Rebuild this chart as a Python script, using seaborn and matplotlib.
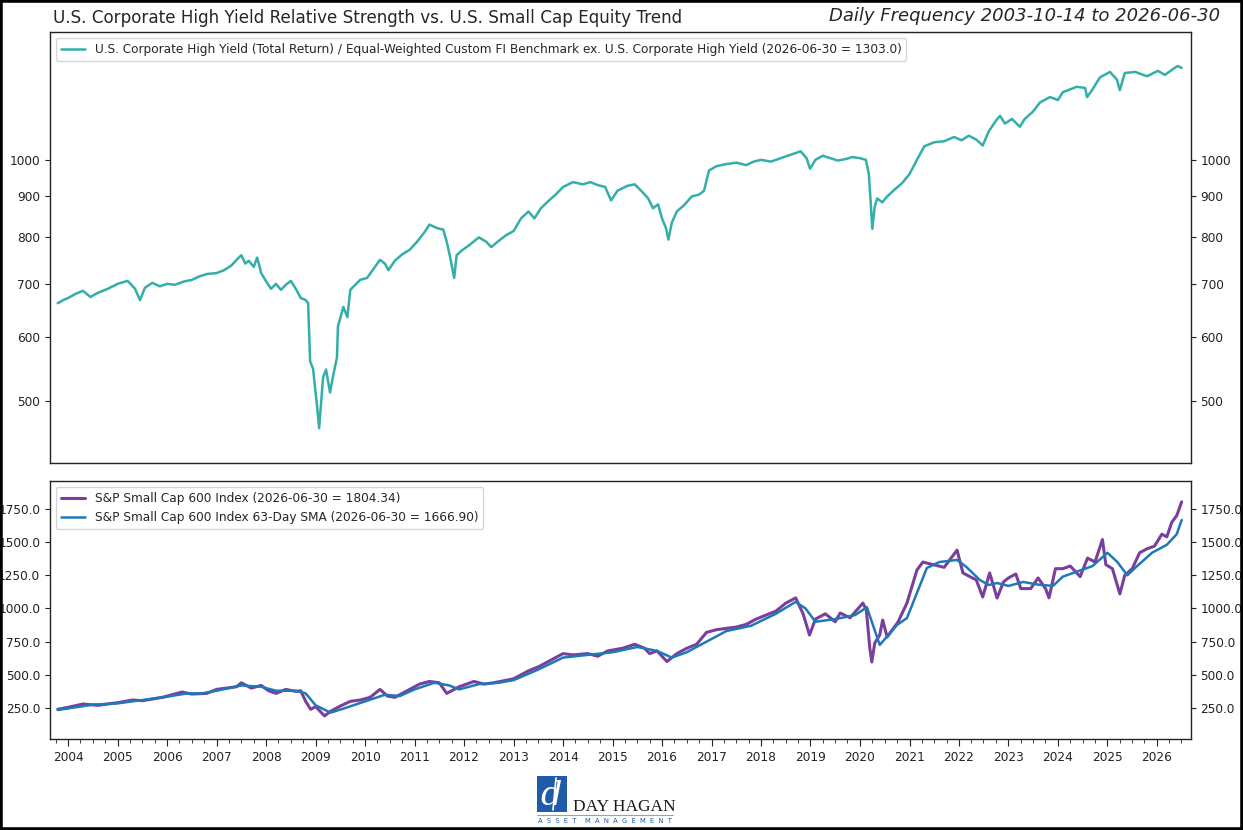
import pandas as pd
import numpy as np
import matplotlib
matplotlib.use("Agg")
import matplotlib.pyplot as plt
import matplotlib.dates as mdates
import matplotlib.ticker as mticker
import matplotlib.patches as mpatches
import seaborn as sns

# High yield relative strength (decimal years)
hy_year = [2003.79, 2003.9, 2004.0, 2004.15, 2004.3, 2004.45, 2004.6, 2004.8, 2005.0, 2005.2,
           2005.35, 2005.45, 2005.55, 2005.7, 2005.85, 2006.0, 2006.15, 2006.35, 2006.5, 2006.65,
           2006.8, 2007.0, 2007.15, 2007.3, 2007.42, 2007.5, 2007.58, 2007.65, 2007.75, 2007.82,
           2007.9, 2008.0, 2008.1, 2008.2, 2008.3, 2008.4, 2008.5, 2008.6, 2008.7, 2008.8,
           2008.85, 2008.89, 2008.95, 2009.03, 2009.07, 2009.15, 2009.21, 2009.29, 2009.36, 2009.43,
           2009.45, 2009.56, 2009.64, 2009.7, 2009.9, 2010.04, 2010.15, 2010.3, 2010.4, 2010.47,
           2010.6, 2010.75, 2010.9, 2011.05, 2011.2, 2011.3, 2011.45, 2011.58, 2011.65, 2011.72,
           2011.8, 2011.85, 2011.95, 2012.1, 2012.3, 2012.45, 2012.55, 2012.7, 2012.85, 2013.0,
           2013.15, 2013.3, 2013.42, 2013.55, 2013.7, 2013.85, 2014.0, 2014.2, 2014.4, 2014.55,
           2014.7, 2014.85, 2014.97, 2015.1, 2015.3, 2015.45, 2015.6, 2015.72, 2015.82, 2015.92,
           2016.0, 2016.08, 2016.13, 2016.2, 2016.3, 2016.45, 2016.6, 2016.75, 2016.85, 2016.95,
           2017.1, 2017.3, 2017.5, 2017.7, 2017.85, 2018.0, 2018.2, 2018.4, 2018.6, 2018.8,
           2018.92, 2018.99, 2019.1, 2019.25, 2019.4, 2019.55, 2019.7, 2019.85, 2020.0, 2020.12,
           2020.18, 2020.22, 2020.25, 2020.3, 2020.35, 2020.45, 2020.55, 2020.7, 2020.85, 2021.0,
           2021.15, 2021.3, 2021.5, 2021.7, 2021.9, 2022.05, 2022.2, 2022.35, 2022.48, 2022.6,
           2022.75, 2022.83, 2022.93, 2023.07, 2023.23, 2023.33, 2023.49, 2023.64, 2023.84, 2024.0,
           2024.1, 2024.38, 2024.55, 2024.59, 2024.69, 2024.85, 2025.05, 2025.19, 2025.25, 2025.35,
           2025.56, 2025.8, 2026.02, 2026.16, 2026.36, 2026.42, 2026.5]
hy_value = [662, 668, 672, 680, 686, 674, 682, 690, 700, 706,
            690, 668, 692, 702, 695, 700, 698, 705, 708, 715,
            720, 722, 728, 738, 752, 760, 742, 748, 735, 755,
            722, 705, 690, 700, 688, 698, 706, 690, 672, 668,
            662, 560, 548, 491, 462, 535, 547, 512, 540, 566,
            619, 655, 636, 688, 708, 712, 728, 750, 742, 728,
            748, 762, 772, 790, 812, 830, 822, 818, 790, 755,
            712, 760, 770, 782, 800, 790, 778, 792, 805, 815,
            845, 862, 845, 870, 888, 905, 925, 938, 932, 938,
            930, 925, 890, 915, 928, 932, 912, 895, 870, 880,
            845, 822, 795, 835, 862, 878, 900, 905, 915, 970,
            982, 988, 992, 985, 995, 1000, 995, 1005, 1015, 1025,
            1005, 975, 1000, 1012, 1005, 998, 1002, 1008, 1005, 1000,
            960, 880, 820, 875, 895, 885, 900, 918, 935, 960,
            1000, 1040, 1052, 1055, 1068, 1058, 1072, 1060, 1042, 1085,
            1120, 1135, 1110, 1125, 1100, 1125, 1148, 1180, 1198, 1188,
            1215, 1234, 1230, 1198, 1222, 1268, 1288, 1260, 1222, 1284,
            1288, 1272, 1292, 1277, 1303, 1310, 1303]

# S&P Small Cap 600 index
sp_year = [2003.79, 2004.0, 2004.3, 2004.6, 2005.0, 2005.3, 2005.5, 2005.9, 2006.3, 2006.5,
           2006.8, 2007.0, 2007.4, 2007.5, 2007.7, 2007.9, 2008.05, 2008.2, 2008.4, 2008.6,
           2008.7, 2008.8, 2008.9, 2009.0, 2009.18, 2009.3, 2009.5, 2009.7, 2009.9, 2010.1,
           2010.3, 2010.45, 2010.6, 2010.9, 2011.1, 2011.3, 2011.5, 2011.65, 2011.75, 2011.9,
           2012.2, 2012.4, 2012.6, 2012.8, 2013.0, 2013.3, 2013.5, 2013.8, 2014.0, 2014.2,
           2014.5, 2014.7, 2014.9, 2015.2, 2015.45, 2015.65, 2015.75, 2015.9, 2016.1, 2016.3,
           2016.5, 2016.7, 2016.9, 2017.1, 2017.3, 2017.5, 2017.7, 2017.9, 2018.1, 2018.3,
           2018.5, 2018.7, 2018.85, 2018.98, 2019.1, 2019.3, 2019.5, 2019.6, 2019.8, 2020.06,
           2020.13, 2020.2, 2020.24, 2020.3, 2020.4, 2020.46, 2020.55, 2020.77, 2020.95, 2021.15,
           2021.27, 2021.5, 2021.7, 2021.96, 2022.08, 2022.35, 2022.48, 2022.62, 2022.77, 2022.9,
           2023.0, 2023.15, 2023.25, 2023.45, 2023.6, 2023.75, 2023.82, 2023.95, 2024.1, 2024.25,
           2024.45, 2024.6, 2024.75, 2024.9, 2024.97, 2025.1, 2025.25, 2025.35, 2025.5, 2025.65,
           2025.8, 2025.95, 2026.1, 2026.2, 2026.3, 2026.4, 2026.5]
sp_value = [240, 255, 280, 270, 290, 310, 305, 330, 370, 355,
            360, 390, 410, 440, 400, 420, 380, 360, 390, 375,
            380, 300, 240, 260, 190, 225, 265, 300, 310, 330,
            390, 340, 330, 390, 430, 450, 440, 360, 380, 410,
            450, 430, 440, 455, 470, 530, 560, 620, 660, 650,
            660, 640, 680, 700, 730, 700, 660, 680, 600, 660,
            700, 730, 820, 840, 850, 860, 880, 920, 950, 980,
            1040, 1080, 960, 800, 920, 960, 900, 966, 930, 1041,
            988, 700, 597, 740, 800, 913, 785, 898, 1041, 1290,
            1350, 1328, 1310, 1440, 1268, 1215, 1087, 1268, 1079, 1200,
            1230, 1260, 1150, 1150, 1230, 1150, 1080, 1300, 1300, 1320,
            1240, 1380, 1350, 1520, 1330, 1300, 1110, 1250, 1300, 1420,
            1450, 1470, 1560, 1540, 1650, 1700, 1804]

# 63-day simple moving average
sma_year = [2003.79, 2004.5, 2005.0, 2005.5, 2006.0, 2006.4, 2006.7, 2007.0, 2007.5, 2007.9,
            2008.2, 2008.6, 2008.8, 2009.0, 2009.3, 2009.6, 2010.0, 2010.4, 2010.7, 2011.0,
            2011.4, 2011.7, 2011.9, 2012.3, 2012.7, 2013.0, 2013.5, 2014.0, 2014.5, 2015.0,
            2015.5, 2015.9, 2016.2, 2016.5, 2016.9, 2017.3, 2017.8, 2018.3, 2018.7, 2018.9,
            2019.1, 2019.5, 2019.9, 2020.14, 2020.4, 2020.75, 2020.95, 2021.15, 2021.35, 2021.6,
            2021.96, 2022.15, 2022.42, 2022.6, 2022.77, 2023.0, 2023.3, 2023.6, 2023.9, 2024.1,
            2024.4, 2024.7, 2025.0, 2025.2, 2025.4, 2025.6, 2025.9, 2026.2, 2026.4, 2026.5]
sma_value = [235, 275, 285, 310, 335, 360, 360, 380, 420, 410,
             380, 380, 360, 270, 215, 250, 300, 350, 340, 390,
             440, 420, 390, 430, 440, 460, 540, 630, 650, 670,
             710, 680, 630, 670, 750, 830, 870, 960, 1050, 1000,
             900, 920, 950, 1010, 725, 876, 928, 1117, 1305, 1350,
             1366, 1313, 1215, 1177, 1192, 1170, 1200, 1180, 1170, 1240,
             1280, 1320, 1420, 1350, 1250, 1320, 1420, 1480, 1560, 1667]

hy_label = ("U.S. Corporate High Yield (Total Return) / Equal-Weighted Custom FI Benchmark "
            "ex. U.S. Corporate High Yield (2026-06-30 = 1303.0)")
sp_label = "S&P Small Cap 600 Index (2026-06-30 = 1804.34)"
sma_label = "S&P Small Cap 600 Index 63-Day SMA (2026-06-30 = 1666.90)"
hy_ticks = [500, 600, 700, 800, 900, 1000]
sp_ticks = [250, 500, 750, 1000, 1250, 1500, 1750]


def to_dates(years):
    years = np.asarray(years)
    whole = np.floor(years).astype(int)
    return pd.to_datetime([f"{y}-01-01" for y in whole]) + pd.to_timedelta((years - whole) * 365.25, unit="D")


hy = pd.DataFrame({"date": to_dates(hy_year), "value": hy_value})
sp = pd.DataFrame({"date": to_dates(sp_year), "value": sp_value})
sma = pd.DataFrame({"date": to_dates(sma_year), "value": sma_value})

sns.set_style("ticks")
plt.rcParams["font.family"] = ["DejaVu Sans"]

fig = plt.figure(figsize=(12.43, 8.30), dpi=100)
ax_bot = fig.add_axes([0.0402, 0.1096, 0.9178, 0.3109])
ax_top = fig.add_axes([0.0402, 0.4422, 0.9178, 0.5193], sharex=ax_bot)

sns.lineplot(data=hy, x="date", y="value", ax=ax_top, color="#33aea8", linewidth=1.8, label=hy_label)
sns.lineplot(data=sp, x="date", y="value", ax=ax_bot, color="#7a3f9d", linewidth=2.2, label=sp_label)
sns.lineplot(data=sma, x="date", y="value", ax=ax_bot, color="#1f78b8", linewidth=1.8, label=sma_label)

for ax in (ax_top, ax_bot):
    ax.set_xlabel("")
    ax.set_ylabel("")
    for s in ax.spines.values():
        s.set_visible(True)
        s.set_color("#222222")
        s.set_linewidth(1.0)
    ax.tick_params(axis="y", left=True, right=True, labelleft=True, labelright=True,
                   labelsize=8.7, colors="#222222")

# top panel: log scale
ax_top.set_yscale("log")
ax_top.set_ylim(418, 1445)
ax_top.set_yticks(hy_ticks)
ax_top.yaxis.set_major_formatter(mticker.FuncFormatter(lambda v, p: f"{v:.0f}"))
ax_top.yaxis.set_minor_locator(mticker.NullLocator())
ax_top.tick_params(axis="x", which="both", bottom=False, labelbottom=False)
ax_top.legend(loc="upper left", fontsize=8.7, handlelength=2.0)

# bottom panel
ax_bot.set_ylim(16, 1961)
ax_bot.set_yticks(sp_ticks)
ax_bot.yaxis.set_major_formatter(mticker.FuncFormatter(lambda v, p: f"{v:.1f}"))
ax_bot.set_xlim(pd.Timestamp("2003-08-20"), pd.Timestamp("2026-09-08"))
ax_bot.xaxis.set_major_locator(mdates.YearLocator())
ax_bot.xaxis.set_minor_locator(mdates.MonthLocator(bymonth=[4, 7, 10]))
ax_bot.xaxis.set_major_formatter(mdates.DateFormatter("%Y"))
ax_bot.tick_params(axis="x", which="major", length=5, labelsize=8.7, colors="#222222")
ax_bot.tick_params(axis="x", which="minor", length=3, colors="#222222")
ax_bot.legend(loc="upper left", fontsize=8.7, handlelength=2.0)

# titles
fig.text(53 / 1243, 1 - 18 / 830, "U.S. Corporate High Yield Relative Strength vs. U.S. Small Cap Equity Trend",
         fontsize=12.1, ha="left", va="center")
fig.text(1220 / 1243, 1 - 16 / 830, "Daily Frequency 2003-10-14 to 2026-06-30",
         fontsize=13, style="italic", ha="right", va="center")

# logo
W, H = 1243, 830
fig.patches.append(mpatches.Rectangle((537 / W, 1 - 812 / H), 30 / W, 36 / H, transform=fig.transFigure,
                                      facecolor="#1f5ba8", edgecolor="none"))
fig.text(551 / W, 1 - 796 / H, "d", fontsize=24, style="italic", family="DejaVu Serif",
         color="white", ha="center", va="center")
fig.lines.append(plt.Line2D([556 / W, 553 / W], [1 - 778 / H, 1 - 810 / H], transform=fig.transFigure,
                            color="white", linewidth=1.2))
fig.text(573 / W, 1 - 806.5 / H, "DAY HAGAN", fontsize=12.5, family="Liberation Serif",
         color="#1a1a1a", ha="left", va="center")
fig.lines.append(plt.Line2D([537 / W, 673 / W], [1 - 814.5 / H, 1 - 814.5 / H], transform=fig.transFigure,
                            color="#a0a0a0", linewidth=0.8))
fig.text(605 / W, 1 - 820.5 / H, "A  S  S  E  T    M  A  N  A  G  E  M  E  N  T", fontsize=4.9,
         color="#1f5ba8", ha="center", va="center")

# figure border
fig.patches.append(mpatches.Rectangle((0, 0), 1, 1, transform=fig.transFigure, fill=False,
                                      edgecolor="black", linewidth=4))

fig.savefig("out.png", dpi=100)
